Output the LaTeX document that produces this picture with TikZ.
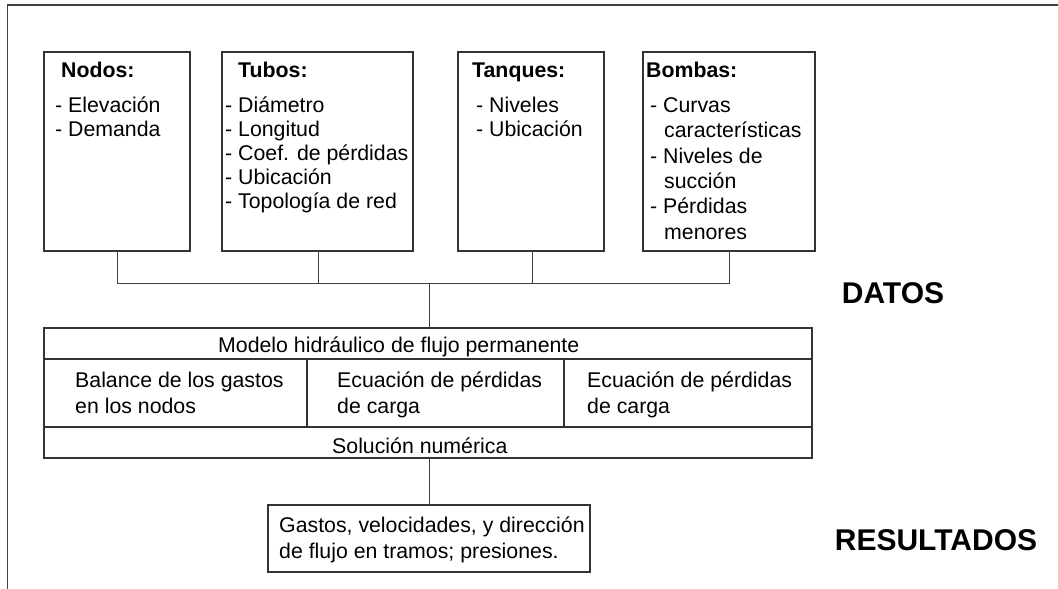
\documentclass[tikz,border=0pt]{standalone}
\usepackage{fontspec}
\setmainfont{Liberation Sans}
\begin{document}
\begin{tikzpicture}[x=1pt,y=-1pt,
  frame/.style={draw=black!75,line width=1.3pt},
  box/.style={draw=black!80,line width=1.1pt,inner sep=0pt,outer sep=0pt,anchor=north west},
  link/.style={draw=black!75,line width=1pt},
  txt/.style={anchor=base west,inner sep=0pt,font=\fontsize{21.3}{24}\selectfont},
  head/.style={anchor=base west,inner sep=0pt,font=\fontsize{21.3}{24}\selectfont\bfseries},
  big/.style={anchor=base,inner sep=0pt,font=\fontsize{30}{34}\selectfont\bfseries}]
\useasboundingbox (0,0) rectangle (1058,589);
% outer frame (only top and left visible)
\coordinate (ftr) at (1058,5);
\coordinate (ftl) at (7.5,5);
\coordinate (fbl) at (7.5,589);
\draw[frame] (ftr) -- (ftl) -- (fbl);

% data boxes
\node[box,minimum width=146pt,minimum height=199pt] (nodos) at (44,52) {};
\node[box,minimum width=191pt,minimum height=199pt] (tubos) at (222,52) {};
\node[box,minimum width=146pt,minimum height=199pt] (tanques) at (458,52) {};
\node[box,minimum width=172pt,minimum height=199pt] (bombas) at (643,52) {};

\node[head] (hn) at (61,77) {Nodos:};
\node[txt] (n1) at (55,112.5) {- Elevación};
\node[txt] (n2) at (55,136.5) {- Demanda};

\node[head] (ht) at (238,77) {Tubos:};
\node[txt] (t1) at (225,112.5) {- Diámetro};
\node[txt] (t2) at (225,136.5) {- Longitud};
\node[txt] (t3) at (225,160.5) {- Coef. de pérdidas};
\node[txt] (t4) at (225,184.5) {- Ubicación};
\node[txt] (t5) at (225,208.5) {- Topología de red};

\node[head] (hq) at (472,77) {Tanques:};
\node[txt] (q1) at (476,112.5) {- Niveles};
\node[txt] (q2) at (476,136.5) {- Ubicación};

\node[head] (hb) at (646,77) {Bombas:};
\node[txt] (b1) at (650,112.5) {- Curvas};
\node[txt] (b2) at (664,137) {características};
\node[txt] (b3) at (650,163) {- Niveles de};
\node[txt] (b4) at (664,188.5) {succión};
\node[txt] (b5) at (650,213.5) {- Pérdidas};
\node[txt] (b6) at (664,239) {menores};

% collector
\coordinate (c1) at (117,283);
\coordinate (c2) at (318,283);
\coordinate (c3) at (532,283);
\coordinate (c4) at (729,283);
\coordinate (cm) at (429,283);
\draw[link] (nodos.south -| c1) -- (c1) -- (c4) -- (bombas.south -| c4);
\draw[link] (tubos.south -| c2) -- (c2);
\draw[link] (tanques.south -| c3) -- (c3);

% model box
\node[box,minimum width=768pt,minimum height=31pt] (mtop) at (44,328) {};
\node[box,minimum width=263pt,minimum height=68pt] (mc1) at (44,359) {};
\node[box,minimum width=257pt,minimum height=68pt] (mc2) at (307,359) {};
\node[box,minimum width=248pt,minimum height=68pt] (mc3) at (564,359) {};
\node[box,minimum width=768pt,minimum height=31pt] (mbot) at (44,427) {};
\draw[link] (cm) -- (mtop.north -| cm);

\node[txt] (mt) at (218,352) {Modelo hidráulico de flujo permanente};
\node[txt] (m1a) at (75,387) {Balance de los gastos};
\node[txt] (m1b) at (75,413) {en los nodos};
\node[txt] (m2a) at (337,387) {Ecuación de pérdidas};
\node[txt] (m2b) at (337,413) {de carga};
\node[txt] (m3a) at (587,387) {Ecuación de pérdidas};
\node[txt] (m3b) at (587,413) {de carga};
\node[txt] (ms) at (332,453) {Solución numérica};

% result box
\node[box,minimum width=322pt,minimum height=67pt] (res) at (268,505) {};
\draw[link] (mbot.south -| cm) -- (res.north -| cm);
\node[txt] (r1) at (279,532) {Gastos, velocidades, y dirección};
\node[txt] (r2) at (279,558) {de flujo en tramos; presiones.};

\node[big] (datos) at (893,303.5) {DATOS};
\node[big] (resultados) at (936,550) {RESULTADOS};
\end{tikzpicture}
\end{document}
